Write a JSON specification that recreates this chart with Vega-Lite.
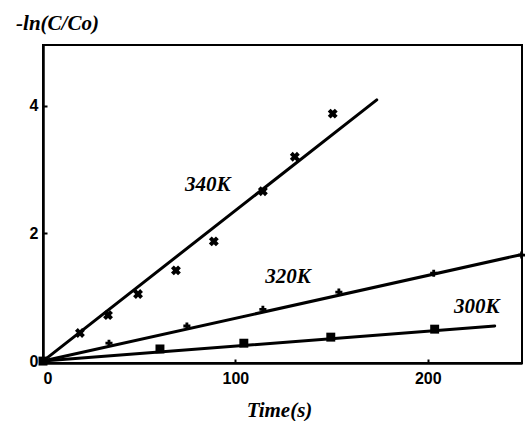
{
  "$schema": "https://vega.github.io/schema/vega-lite/v6.json",
  "width": 479,
  "height": 318,
  "autosize": {"type": "none"},
  "padding": {"left": 43, "top": 45, "right": 3, "bottom": 58},
  "background": "white",
  "config": {
    "view": {"stroke": "black", "strokeWidth": 2},
    "axis": {
      "domainColor": "black",
      "domainWidth": 2.5,
      "tickColor": "black",
      "tickWidth": 2,
      "tickSize": -4,
      "labelFont": "Liberation Sans, Arial, sans-serif",
      "labelFontWeight": "bold",
      "labelFontSize": 16,
      "labelColor": "black",
      "grid": false,
      "titleFont": "Times New Roman, Liberation Serif, DejaVu Serif, serif",
      "titleFontStyle": "italic",
      "titleFontWeight": "bold",
      "titleFontSize": 21,
      "titleColor": "black"
    }
  },
  "datasets": {
    "points": [
      {"series": "340K", "t": 19.2, "v": 0.44},
      {"series": "340K", "t": 33.8, "v": 0.72},
      {"series": "340K", "t": 49.4, "v": 1.05},
      {"series": "340K", "t": 69.1, "v": 1.42},
      {"series": "340K", "t": 88.8, "v": 1.875},
      {"series": "340K", "t": 114.3, "v": 2.66},
      {"series": "340K", "t": 130.9, "v": 3.2},
      {"series": "340K", "t": 150.6, "v": 3.875},
      {"series": "320K", "t": 34.3, "v": 0.28},
      {"series": "320K", "t": 74.8, "v": 0.55},
      {"series": "320K", "t": 114.3, "v": 0.81},
      {"series": "320K", "t": 153.8, "v": 1.08},
      {"series": "320K", "t": 203.1, "v": 1.375},
      {"series": "320K", "t": 248.8, "v": 1.66},
      {"series": "300K", "t": 60.8, "v": 0.19},
      {"series": "300K", "t": 104.4, "v": 0.28},
      {"series": "300K", "t": 149.6, "v": 0.375},
      {"series": "300K", "t": 203.6, "v": 0.5},
      {"series": "origin", "t": 0, "v": 0}
    ],
    "fits": [
      {"series": "340K", "t": 0, "v": 0},
      {"series": "340K", "t": 173.5, "v": 4.09},
      {"series": "320K", "t": 0, "v": 0},
      {"series": "320K", "t": 249, "v": 1.67},
      {"series": "300K", "t": 0, "v": 0},
      {"series": "300K", "t": 234.8, "v": 0.55}
    ],
    "labels": [
      {"label": "340K", "t": 85.7, "v": 2.75},
      {"label": "320K", "t": 127.3, "v": 1.31},
      {"label": "300K", "t": 225.5, "v": 0.84}
    ]
  },
  "encoding": {
    "x": {
      "field": "t",
      "type": "quantitative",
      "scale": {"domain": [0, 249], "nice": false, "zero": false},
      "axis": {
        "values": [0, 100, 200],
        "title": "Time(s)",
        "labelPadding": 11,
        "titleAnchor": "start",
        "titleAlign": "center",
        "titleBaseline": "middle",
        "titleX": 236,
        "titleY": 47
      }
    },
    "y": {
      "field": "v",
      "type": "quantitative",
      "scale": {"domain": [-0.03, 4.95], "nice": false, "zero": false},
      "axis": {
        "values": [0, 2, 4],
        "title": "-ln(C/Co)",
        "titleAngle": 0,
        "titleAlign": "center",
        "titleBaseline": "middle",
        "titleX": 14,
        "titleY": -22,
        "labelPadding": 9
      }
    }
  },
  "layer": [
    {
      "data": {"name": "fits"},
      "mark": {"type": "line", "color": "black", "strokeWidth": 3, "strokeCap": "round"},
      "encoding": {"detail": {"field": "series"}}
    },
    {
      "data": {"name": "points"},
      "transform": [{"filter": "datum.series === '340K'"}],
      "mark": {"type": "point", "shape": "cross", "angle": 45, "filled": true, "color": "black", "size": 100, "opacity": 1}
    },
    {
      "data": {"name": "points"},
      "transform": [{"filter": "datum.series === '320K'"}],
      "mark": {"type": "point", "shape": "cross", "filled": true, "color": "black", "size": 50, "opacity": 1}
    },
    {
      "data": {"name": "points"},
      "transform": [{"filter": "datum.series === '300K'"}],
      "mark": {"type": "point", "shape": "square", "filled": true, "color": "black", "size": 80, "opacity": 1}
    },
    {
      "data": {"name": "points"},
      "transform": [{"filter": "datum.series === 'origin'"}],
      "mark": {"type": "point", "shape": "square", "filled": true, "color": "black", "size": 80, "opacity": 1}
    },
    {
      "data": {"name": "labels"},
      "mark": {"type": "text", "font": "Times New Roman, Liberation Serif, DejaVu Serif, serif", "fontStyle": "italic", "fontWeight": "bold", "fontSize": 21, "color": "black", "align": "center", "baseline": "middle"},
      "encoding": {"text": {"field": "label"}}
    }
  ]
}
